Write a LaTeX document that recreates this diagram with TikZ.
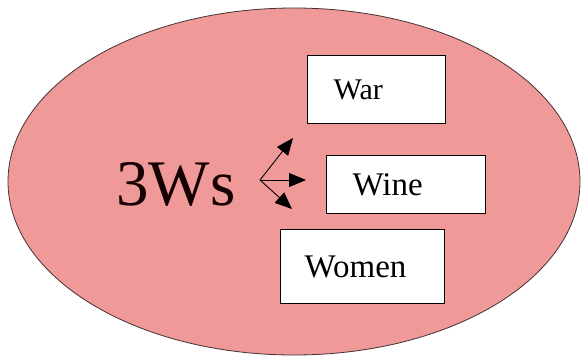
\documentclass[tikz,border=0pt]{standalone}
\usepackage{fontspec}
\setmainfont{Liberation Serif}
\usetikzlibrary{arrows.meta,shapes.geometric}
\definecolor{pinkfill}{RGB}{239,153,153}
\definecolor{rimcol}{RGB}{70,50,50}
\tikzset{
  wbox/.style={draw=black, line width=1.3pt, fill=white, anchor=north west,
    inner ysep=0pt, align=left, font=\fontsize{#1}{#1}\selectfont},
  farrow/.style={line width=0.9pt, -{Triangle[length=17pt,width=14pt]}}
}
\begin{document}
\begin{tikzpicture}[x=1pt,y=-1pt]
\useasboundingbox (0,0) rectangle (582,357);
\fill[white] (0,0) rectangle (582,357);
\node[draw=rimcol, line width=0.8pt, fill=pinkfill, ellipse, minimum width=572pt, minimum height=347pt, inner sep=0pt] (oval) at (294,181.5) {};
\node[wbox=30, inner xsep=26pt, text width=86pt, minimum height=68pt] (war) at (307,55) {War};
\node[wbox=33, inner xsep=26pt, text width=107pt, minimum height=58pt] (wine) at (326,155) {Wine};
\node[wbox=33, inner xsep=24pt, text width=116pt, minimum height=74pt] (women) at (280,229) {Women};
\node[anchor=base west, inner sep=0pt, font=\fontsize{65}{65}\selectfont, text=black!92!red] (title) at (116,205) {3Ws};
\coordinate (o) at (260,180);
\coordinate (tup) at (293,138);
\coordinate (tmid) at (306,180);
\coordinate (tdn) at (292,209);
\draw[farrow] (o) -- (tup);
\draw[farrow] (o) -- (tmid);
\draw[farrow] (o) -- (tdn);
\end{tikzpicture}
\end{document}
